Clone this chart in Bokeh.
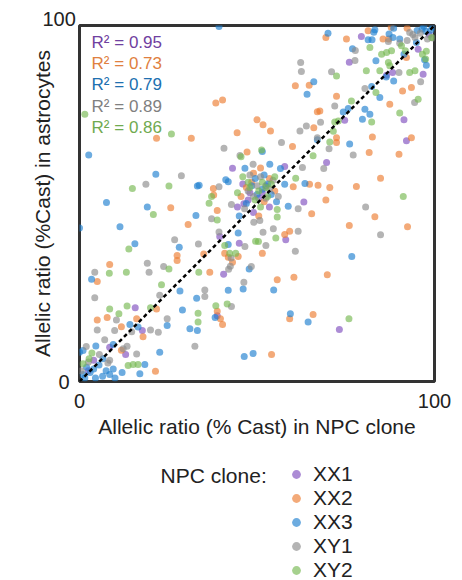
from bokeh.plotting import figure
from bokeh.layouts import column
from bokeh.models import (Range1d, FixedTicker, Label, Legend, LegendItem, Title,
                          ColumnDataSource)
from bokeh.embed import file_html
from bokeh.resources import INLINE

FONT = "Liberation Sans"

# Allelic ratios (% Cast) per gene: (NPC clone, astrocytes)
xx1 = [(43.1, 59.9), (57.8, 60.4), (79.4, 96.9), (95.4, 93.3), (96.8, 86.3), (76.0, 89.7),
       (88.2, 86.8), (86.5, 86.0), (91.4, 73.5), (74.7, 73.4), (92.1, 67.6), (69.6, 61.5),
       (15.7, 20.7), (17.7, 14.3), (8.5, 9.6), (13.0, 7.6), (63.2, 50.4), (58.1, 39.8),
       (39.5, 40.7), (45.0, 38.8), (40.6, 30.1), (38.8, 18.5), (73.2, 14.6), (47.5, 51.0),
       (49.0, 47.5), (51.5, 53.0), (53.5, 49.0), (46.0, 55.5), (44.5, 49.0), (46.3, 49.9),
       (50.5, 51.5), (52.5, 55.0), (48.0, 53.0), (98.5, 97.5), (2.5, 3.0), (4.0, 6.0)]

xx2 = [(21.7, 68.3), (31.5, 68.3), (60.8, 83.1), (64.7, 83.2), (38.4, 78.2), (40.3, 79.1),
       (67.0, 75.8), (50.0, 73.5), (51.7, 72.1), (53.8, 70.4), (44.4, 69.9), (66.0, 71.3),
       (60.0, 66.0), (47.2, 64.5), (64.8, 55.4), (60.2, 54.7), (37.7, 54.2), (37.8, 52.4),
       (69.4, 96.6), (75.2, 96.2), (81.3, 98.5), (85.5, 96.2), (87.8, 99.5), (87.1, 96.2),
       (92.3, 99.2), (92.1, 91.0), (91.0, 81.6), (93.5, 82.6), (72.4, 80.1), (87.4, 77.9),
       (67.7, 76.0), (72.4, 68.5), (72.4, 67.1), (82.5, 68.7), (93.5, 68.5), (81.6, 64.3),
       (90.0, 63.8), (67.2, 55.1), (70.5, 54.5), (78.0, 54.8), (84.8, 57.1), (69.4, 51.0),
       (25.7, 48.8), (30.6, 44.1), (27.5, 35.4), (27.5, 34.0), (8.5, 32.9), (5.0, 28.1),
       (21.7, 20.4), (5.0, 17.3), (7.8, 18.0), (16.1, 17.6), (11.8, 15.4), (17.9, 12.6),
       (11.8, 8.8), (21.4, 2.9), (38.8, 48.0), (65.4, 47.1), (57.8, 41.3), (59.2, 42.2),
       (51.5, 36.0), (40.9, 36.0), (41.9, 34.9), (43.1, 33.5), (44.7, 35.1), (36.7, 30.7),
       (35.0, 35.8), (55.7, 28.6), (60.4, 29.3), (38.8, 19.7), (39.7, 17.6), (40.3, 16.0),
       (59.2, 17.6), (65.8, 18.8), (54.1, 7.6), (83.2, 46.3), (76.0, 43.8), (92.4, 43.5),
       (69.8, 30.0), (48.5, 56.0), (52.0, 50.5), (55.0, 53.5), (45.5, 52.0), (50.5, 46.5),
       (49.0, 58.5), (53.5, 57.0), (47.0, 54.5), (51.0, 60.0)]

xx3 = [(2.6, 63.6), (21.5, 58.2), (33.2, 54.9), (7.6, 50.3), (39.3, 99.7), (66.0, 84.2),
       (64.1, 80.7), (67.0, 67.9), (51.5, 64.6), (53.6, 61.0), (46.6, 59.9), (56.6, 59.8),
       (63.5, 55.6), (57.8, 55.4), (41.2, 56.7), (41.9, 56.1), (33.7, 55.1), (70.0, 97.8),
       (83.2, 98.8), (81.3, 96.0), (82.4, 96.0), (82.9, 98.1), (87.2, 97.6), (88.3, 96.6),
       (90.2, 96.2), (88.5, 99.2), (95.1, 98.6), (96.5, 99.0), (97.5, 98.4), (98.9, 98.7),
       (99.5, 99.5), (97.0, 99.8), (94.9, 95.2), (91.4, 91.9), (97.7, 88.8), (97.2, 90.4),
       (76.9, 93.5), (83.5, 90.1), (88.5, 84.4), (86.4, 85.5), (82.3, 82.9), (84.6, 79.8),
       (74.3, 75.7), (75.7, 76.7), (80.4, 76.5), (81.8, 75.1), (79.7, 73.7), (76.1, 66.7),
       (19.1, 49.0), (32.8, 46.6), (0.0, 43.1), (11.4, 43.5), (15.6, 38.7), (28.1, 37.7),
       (3.4, 28.7), (28.3, 25.4), (29.0, 20.1), (14.2, 16.0), (16.5, 15.3), (24.7, 15.7),
       (31.1, 14.8), (33.2, 14.3), (22.6, 8.2), (4.6, 10.0), (9.5, 10.4), (1.0, 8.7),
       (6.6, 6.4), (5.5, 4.6), (18.4, 4.8), (17.0, 2.2), (0.0, 8.2), (1.5, 1.0), (3.0, 2.5),
       (4.5, 1.0), (6.5, 1.5), (8.5, 2.0), (10.0, 1.0), (12.0, 2.5), (2.0, 4.0), (4.0, 3.5),
       (7.5, 3.0), (1.0, 2.0), (9.5, 3.5), (58.8, 49.2), (41.9, 38.5), (44.7, 41.7),
       (47.8, 31.6), (46.1, 26.0), (41.9, 25.6), (54.7, 25.7), (33.0, 23.4), (38.2, 18.0),
       (59.4, 19.0), (64.4, 16.7), (46.4, 7.0), (48.9, 7.9), (76.7, 35.1), (50.0, 52.5),
       (47.0, 50.0), (53.0, 55.5), (55.5, 50.5), (49.5, 57.0), (45.0, 46.5), (51.5, 54.0),
       (48.5, 55.0), (54.0, 52.5), (52.0, 58.0)]

xy1 = [(28.7, 57.8), (18.7, 55.4), (62.3, 89.6), (62.5, 87.1), (63.9, 71.8), (62.1, 70.4),
       (56.9, 67.1), (40.7, 65.5), (45.2, 63.5), (48.9, 61.0), (62.8, 60.1), (39.3, 54.7),
       (87.0, 95.5), (93.0, 98.0), (94.5, 96.6), (93.9, 97.5), (96.0, 97.8), (98.0, 96.2),
       (99.5, 96.5), (92.3, 95.8), (90.2, 95.0), (77.6, 90.2), (77.7, 93.0), (96.1, 84.2),
       (71.0, 87.0), (90.0, 86.8), (94.4, 78.4), (80.4, 82.3), (71.9, 77.4), (67.9, 72.8),
       (67.0, 68.5), (70.3, 65.4), (77.1, 63.6), (68.8, 59.8), (26.8, 39.8), (33.5, 38.6),
       (19.1, 33.2), (4.3, 30.7), (19.6, 30.7), (23.7, 32.3), (4.3, 23.5), (22.6, 24.2),
       (10.4, 17.3), (24.7, 17.6), (5.0, 14.5), (9.9, 14.3), (14.7, 14.0), (20.0, 14.5),
       (22.2, 13.8), (32.5, 9.9), (16.1, 7.7), (7.1, 11.7), (13.4, 9.9), (12.3, 9.2),
       (1.9, 9.8), (5.6, 7.6), (8.5, 6.0), (8.0, 5.2), (2.5, 5.5), (0.5, 3.0), (42.8, 49.7),
       (37.2, 45.7), (61.6, 48.5), (51.7, 41.9), (54.6, 42.9), (61.6, 42.2), (52.5, 38.2),
       (60.8, 36.6), (39.3, 42.0), (46.6, 37.9), (42.7, 34.7), (42.0, 31.5), (42.5, 32.4),
       (48.4, 32.3), (46.3, 27.9), (35.3, 25.7), (35.3, 23.9), (42.8, 21.1), (80.6, 49.0),
       (84.8, 41.2), (49.1, 44.7), (50.8, 45.2), (47.5, 53.5), (52.5, 51.5), (54.5, 56.5),
       (50.0, 55.0), (46.5, 48.5), (56.0, 52.0), (49.0, 52.0), (51.0, 57.5), (53.5, 54.0),
       (48.0, 58.0)]

xy2 = [(1.5, 75.1), (25.9, 69.5), (14.9, 54.2), (25.2, 54.9), (45.5, 63.1), (51.3, 65.0),
       (65.8, 63.4), (60.9, 57.1), (37.2, 52.0), (81.8, 93.8), (99.2, 96.6), (90.7, 94.3),
       (91.8, 92.9), (96.6, 91.9), (97.7, 92.8), (97.5, 90.6), (85.1, 91.9), (86.5, 92.4),
       (87.9, 92.9), (87.0, 89.6), (87.4, 88.7), (80.8, 87.3), (84.6, 87.3), (72.4, 85.8),
       (93.0, 86.8), (94.5, 87.3), (95.4, 79.3), (83.5, 81.2), (76.6, 78.8), (82.3, 72.9),
       (90.2, 75.4), (71.9, 72.9), (72.9, 73.2), (71.5, 70.3), (70.5, 67.3), (91.2, 52.0),
       (20.8, 46.9), (13.9, 37.2), (8.4, 30.4), (13.2, 30.7), (25.2, 31.6), (33.6, 30.7),
       (23.1, 27.2), (8.5, 20.4), (11.1, 19.0), (13.4, 21.2), (20.0, 20.7), (2.7, 6.4),
       (13.7, 4.5), (15.1, 4.8), (16.5, 4.8), (1.0, 5.0), (3.5, 8.0), (36.5, 50.1),
       (38.8, 45.4), (55.7, 46.2), (55.7, 48.3), (55.3, 40.3), (49.6, 39.4), (50.4, 39.3),
       (40.9, 38.2), (42.3, 36.0), (44.0, 36.0), (38.4, 21.3), (41.6, 21.8), (33.4, 19.2),
       (33.4, 16.7), (75.9, 17.6), (48.0, 54.5), (51.0, 49.0), (53.0, 52.0), (49.5, 51.0),
       (46.0, 57.5), (55.0, 57.5), (44.5, 53.0), (51.5, 56.0), (50.5, 53.5), (52.5, 54.5),
       (47.5, 56.0), (54.0, 55.5)]

clones = ["XX1", "XX2", "XX3", "XY1", "XY2"]
series = [xx1, xx2, xx3, xy1, xy2]
r_squared = [0.95, 0.73, 0.79, 0.89, 0.86]
point_colors = ["#7f4fbf", "#ed7d31", "#1f7fcf", "#8c8c8c", "#76b852"]
text_colors = ["#7040a0", "#e08040", "#2070b0", "#808080", "#70aa50"]
identity = [0, 100]

sources = [ColumnDataSource(dict(x=[a for a, _ in pts], y=[b for _, b in pts]))
           for pts in series]

# ---- scatter panel -------------------------------------------------------
p = figure(width=462, height=450, output_backend="svg", toolbar_location=None,
           x_range=Range1d(0, 100), y_range=Range1d(0, 100),
           min_border_left=79, min_border_right=28, min_border_top=25,
           min_border_bottom=69)

p.grid.visible = False
p.outline_line_color = "#333333"
p.outline_line_width = 3

for ax in (p.xaxis[0], p.yaxis[0]):
    ax.axis_line_color = None
    ax.major_tick_line_color = None
    ax.minor_tick_line_color = None
    ax.major_label_text_font = FONT
    ax.major_label_text_font_size = "20px"
    ax.major_label_text_color = "#222222"
    ax.major_label_standoff = 6
    ax.axis_label_text_font = FONT
    ax.axis_label_text_font_size = "21px"
    ax.axis_label_text_font_style = "normal"
    ax.axis_label_text_color = "#222222"
    ax.axis_label_standoff = 4

p.xaxis.ticker = FixedTicker(ticks=[0, 100])
p.xaxis.axis_label = "Allelic ratio (% Cast) in NPC clone"

# the y axis carries only its "0" label, so the title stays close to the frame;
# the "100" label sits above the frame's top-left corner
p.yaxis.ticker = FixedTicker(ticks=[0])
p.yaxis.major_label_standoff = 4
p.yaxis.axis_label_standoff = 1
p.yaxis.axis_label = "Allelic ratio (%Cast) in astrocytes"
p.add_layout(Title(text="100", align="left", offset=-37, standoff=0,
                   text_font=FONT, text_font_size="20px", text_font_style="normal",
                   text_color="#222222"), "above")

for src, col in zip(sources, point_colors):
    p.scatter("x", "y", source=src, size=7, fill_color=col, fill_alpha=0.65,
              line_color=None)

p.line(identity, identity, line_color="black", line_width=2.5, line_dash="4 3")

for i, (r2, col) in enumerate(zip(r_squared, text_colors)):
    p.add_layout(Label(x=3.4, y=95.2 - i * 5.95, text=f"R\u00b2 = {r2:.2f}",
                       text_align="left", text_baseline="middle",
                       text_font=FONT, text_font_size="17px", text_color=col))

# ---- legend strip: pixel-unit frame aligned with the scatter frame ----------
lg = figure(width=462, height=130, output_backend="svg", toolbar_location=None,
            x_range=Range1d(79, 434), y_range=Range1d(0, 130),
            x_axis_type=None, y_axis_type=None,
            min_border_left=79, min_border_right=28, min_border_top=0,
            min_border_bottom=0, outline_line_color=None)
lg.grid.visible = False

items = []
for src, col, name in zip(sources, point_colors, clones):
    r = lg.scatter("x", "y", source=src, size=7, fill_color=col, fill_alpha=0.65,
                   line_color=None, visible=False)
    items.append(LegendItem(label=name, renderers=[r]))

legend = Legend(items=items, location=(206, -2), orientation="vertical",
                border_line_color=None, background_fill_alpha=0,
                inactive_fill_alpha=0,
                padding=0, margin=0, spacing=0,
                glyph_width=22, glyph_height=22, label_height=20,
                label_standoff=6, label_text_font=FONT,
                label_text_font_size="21px", label_text_color="#222222")
lg.add_layout(legend)

lg.add_layout(Label(x=160, y=105, text="NPC clone:", text_align="left",
                    text_baseline="middle", text_font=FONT, text_font_size="21px",
                    text_color="#222222"))

open("out.html", "w").write(file_html(column(p, lg, spacing=0), INLINE))
